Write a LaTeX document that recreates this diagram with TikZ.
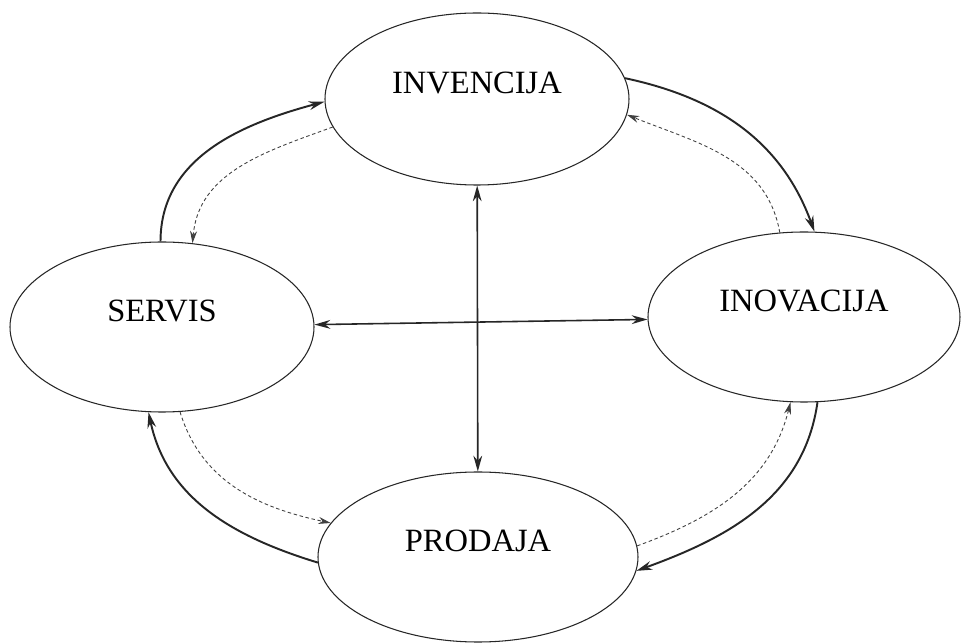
\documentclass[tikz,border=0pt]{standalone}
\usepackage{fontspec}
\setmainfont{Liberation Serif}
\usetikzlibrary{shapes.geometric,arrows.meta}
\tikzstyle{phase} = [draw=black!85, ellipse, line width=0.6pt,
    inner sep=2pt, minimum height=3.4cm, text depth=0.64cm,
    font=\fontsize{18.5}{22}\selectfont]
\tikzstyle{flow} = [draw=black!85, line width=1.1pt,
    -{Stealth[length=9pt,width=5pt]}]
\tikzstyle{back} = [draw=black!75, line width=0.5pt,
    dash pattern=on 2pt off 1.5pt, -{Stealth[length=7pt,width=4pt]}]
\tikzstyle{link} = [draw=black!85, line width=0.9pt,
    {Stealth[length=9pt,width=5pt]}-{Stealth[length=9pt,width=5pt]}]

\begin{document}
\begin{tikzpicture}

\fill[white] (0,0) rectangle (19.24,12.84);

\node[phase, minimum width=6.08cm, minimum height=3.44cm] (Invencija) at (9.54,10.86) {INVENCIJA};
\node[phase, minimum width=6.08cm] (Servis) at (3.24,6.30) {SERVIS};
\node[phase, minimum width=6.24cm] (Inovacija) at (16.08,6.50) {INOVACIJA};
\node[phase, minimum width=6.4cm] (Prodaja) at (9.56,1.70) {PRODAJA};

\draw[flow] (Servis.91) to[out=90, in=195] (Invencija.181);
\draw[flow] (Invencija.8) to[out=-12, in=110] (Inovacija.83);
\draw[flow] (Inovacija.-81) to[out=-98, in=20] (Prodaja.-5);
\draw[flow] (Prodaja.182) to[out=163, in=-78] (Servis.-99);

\draw[back] (Invencija.191) to[out=200, in=85] (Servis.70);
\draw[back] (Servis.-78) to[out=-73, in=168] (Prodaja.167);
\draw[back] (Prodaja.4) to[out=20, in=-104] (Inovacija.-99);
\draw[back] (Inovacija.106) to[out=100, in=-22] (Invencija.-6);

\draw[link] (Invencija) -- (Prodaja);
\draw[link] (Servis) -- (Inovacija);

\end{tikzpicture}
\end{document}
